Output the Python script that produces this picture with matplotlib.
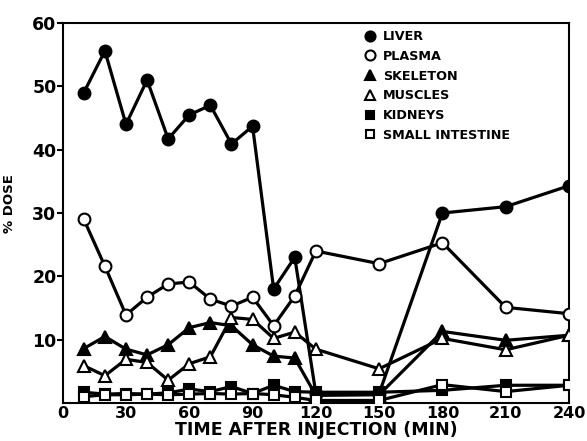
import matplotlib
matplotlib.use("Agg")
import matplotlib.pyplot as plt

time = [10, 20, 30, 40, 50, 60, 70, 80, 90, 100, 110, 120, 150, 180, 210, 240]
liver = [49, 55.6, 44, 51, 41.7, 45.5, 47, 40.9, 43.7, 18, 23, 1.5, 1.5, 30, 31, 34.3]
plasma = [29, 21.6, 13.9, 16.7, 18.8, 19.1, 16.4, 15.3, 16.7, 12.2, 16.9, 24, 22, 25.3, 15.1, 14.1]
skeleton = [8.6, 10.5, 8.5, 7.6, 9.2, 11.9, 12.7, 12.2, 9.2, 7.4, 7.1, 1.2, 1.3, 11.3, 9.9, 10.7]
muscles = [5.9, 4.3, 6.9, 6.4, 3.6, 6.2, 7.3, 13.5, 13.2, 10.2, 11.2, 8.5, 5.4, 10.2, 8.4, 10.7]
kidneys = [1.7, 1.4, 1.5, 1.4, 1.6, 2.2, 1.8, 2.6, 1.5, 2.8, 1.8, 1.7, 1.7, 2.0, 2.8, 2.8]
intestine = [1.0, 1.3, 1.3, 1.4, 1.3, 1.4, 1.5, 1.4, 1.5, 1.3, 0.9, 0.4, 0.4, 2.9, 1.8, 2.8]

series = [
    ("LIVER", liver, "o", "black"),
    ("PLASMA", plasma, "o", "white"),
    ("SKELETON", skeleton, "^", "black"),
    ("MUSCLES", muscles, "^", "white"),
    ("KIDNEYS", kidneys, "s", "black"),
    ("SMALL INTESTINE", intestine, "s", "white"),
]

xticks = [0, 30, 60, 90, 120, 150, 180, 210, 240]
yticks = [10, 20, 30, 40, 50, 60]

plt.rcParams['font.family'] = ['DejaVu Sans']
fig = plt.figure(figsize=(5.87, 4.41), dpi=100)
ax = fig.add_axes([62.7/587, 1 - 403/441, (569 - 62.7)/587, (403 - 23)/441])

for name, vals, m, fc in series:
    ax.plot(time, vals, color="black", lw=2.3, marker=m, markersize=8.5 if m != "s" else 7,
            markerfacecolor=fc, markeredgecolor="black", markeredgewidth=1.5, label=name,
            zorder=3 if fc == "black" else 4)

ax.set_xlim(0, 240)
ax.set_ylim(0, 60)
ax.set_xticks(xticks)
ax.set_yticks(yticks)
ax.tick_params(axis='y', direction='out', length=4, width=1.5, labelsize=12.5, pad=0.5)
ax.tick_params(axis='x', direction='out', length=0, width=1.5, labelsize=11.5, pad=2)
for s in ax.spines.values():
    s.set_linewidth(1.5)
for lab in ax.get_xticklabels() + ax.get_yticklabels():
    lab.set_fontweight('bold')

ax.set_xlabel("TIME AFTER INJECTION (MIN)", fontsize=12.5, fontweight='bold', labelpad=0)
ax.set_ylabel("% DOSE", fontsize=9.5, fontweight='bold')
ax.yaxis.set_label_coords(-0.092, 0.526)

leg = ax.legend(loc='upper left', bbox_to_anchor=(0.59, 0.995), frameon=False,
                fontsize=9.2, handlelength=0.6, handletextpad=0.7, labelspacing=0.53,
                borderaxespad=0, markerscale=0.85)
for h in leg.legend_handles:
    h.set_linestyle('None')
for t in leg.get_texts():
    t.set_fontweight('bold')

fig.savefig("out.png", dpi=100)
